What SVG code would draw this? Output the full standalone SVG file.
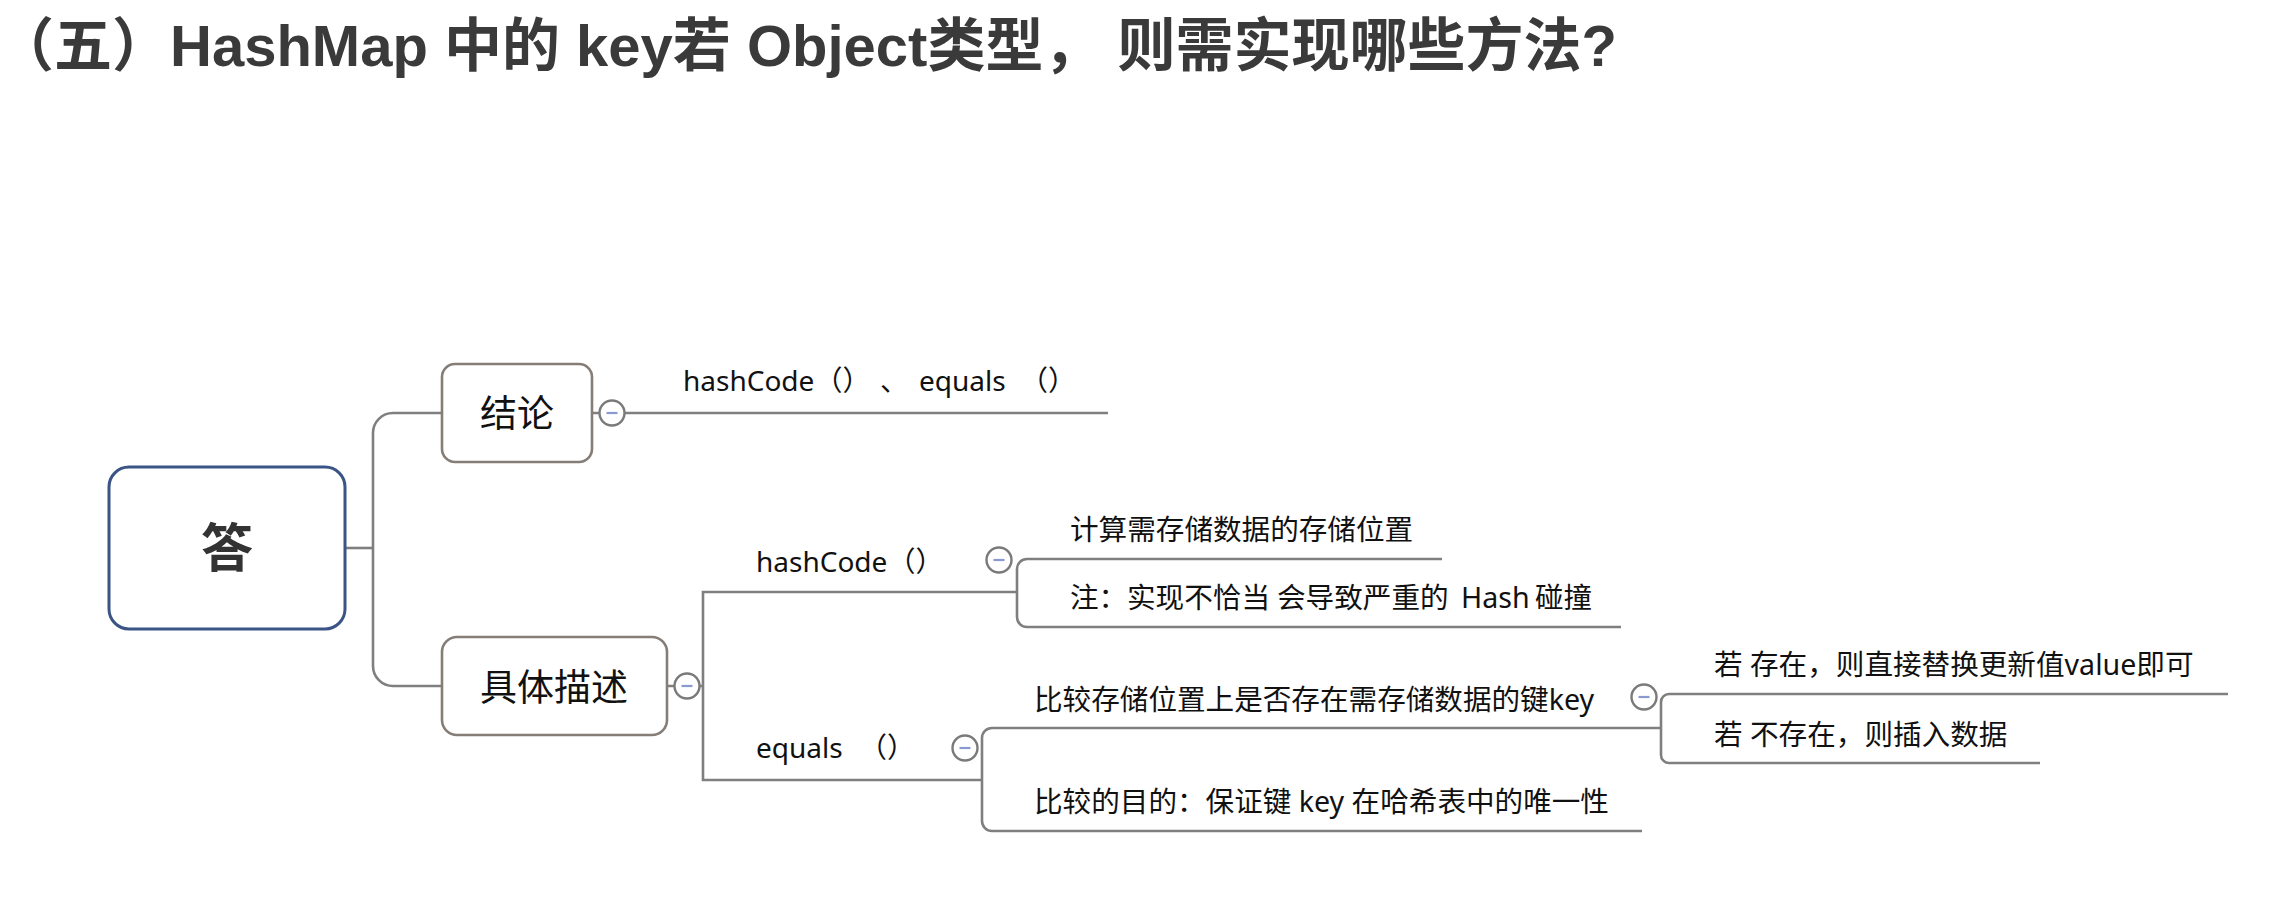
<svg xmlns="http://www.w3.org/2000/svg" width="2286" height="906" viewBox="0 0 2286 906">
<style>
.title{font-family:"Liberation Sans","Noto Sans CJK SC",sans-serif;font-weight:bold;font-size:58px;fill:#3a3a3a}
.t{font-family:"Noto Sans","Noto Sans CJK SC",sans-serif;font-size:28.6px;fill:#111}
.l{font-family:"Noto Sans","Noto Sans CJK SC",sans-serif;font-size:28px;fill:#111}
.node{font-family:"Noto Sans","Noto Sans CJK SC",sans-serif;font-size:37px;fill:#111;text-anchor:middle}
.root{font-family:"Noto Sans CJK SC",sans-serif;font-weight:bold;font-size:52px;fill:#333;text-anchor:middle}
.conn{fill:none;stroke:#7f7f7f;stroke-width:2.6}
.box{fill:#fff;stroke:#857d76;stroke-width:2.6}
.tog circle{fill:#fff;stroke:#7a7a7a;stroke-width:2.4}
.tog line{stroke:#8a9ad0;stroke-width:2.2}
</style>
<rect width="2286" height="906" fill="#fff"/>
<text class="title" x="-4" y="66">（五）HashMap 中的 key若 Object类型， 则需实现哪些方法?</text>

<g id="connectors">
<path class="conn" d="M345 548 H373"/>
<path class="conn" d="M442 413 H393 A20 20 0 0 0 373 433 V666 A20 20 0 0 0 393 686 H442"/>
<path class="conn" d="M592 413 H1108"/>
<path class="conn" d="M667 686 H703"/>
<path class="conn" d="M1017 592 H703 V780 H982"/>
<path class="conn" d="M1442 559 H1027 A10 10 0 0 0 1017 569 V617 A10 10 0 0 0 1027 627 H1621"/>
<path class="conn" d="M1661 728 H992 A10 10 0 0 0 982 738 V821 A10 10 0 0 0 992 831 H1642"/>
<path class="conn" d="M2228 694 H1669 A8 8 0 0 0 1661 702 V755 A8 8 0 0 0 1669 763 H2040"/>
</g>

<g id="root">
<rect x="109" y="467" width="236" height="162" rx="20" fill="#fff" stroke="#3a5585" stroke-width="3"/>
<text class="root" x="227" y="567">答</text>
</g>

<g id="conclusion">
<rect class="box" x="442" y="364" width="150" height="98" rx="13"/>
<text class="node" x="517" y="427">结论</text>
</g>
<g id="conclusion-toggle" class="tog">
<circle cx="612" cy="413" r="12.5"/><line x1="606.5" y1="413" x2="617.5" y2="413"/>
</g>
<g id="conclusion-text">
<text class="l" y="391"><tspan x="683">hashCode（）</tspan><tspan x="880">、</tspan><tspan x="919">equals</tspan><tspan x="1020">（）</tspan></text>
</g>

<g id="detail">
<rect class="box" x="442" y="637" width="225" height="98" rx="15"/>
<text class="node" x="554" y="701">具体描述</text>
</g>
<g id="detail-toggle" class="tog">
<circle cx="687" cy="686" r="12.5"/><line x1="681.5" y1="686" x2="692.5" y2="686"/>
</g>

<g id="hashcode">
<text class="l" x="756" y="572">hashCode（）</text>
</g>
<g id="hashcode-toggle" class="tog">
<circle cx="999" cy="560" r="12.5"/><line x1="993.5" y1="560" x2="1004.5" y2="560"/>
</g>
<g id="hashcode-1"><text class="t" x="1070" y="540">计算需存储数据的存储位置</text></g>
<g id="hashcode-2"><text class="t" y="608"><tspan x="1070">注：</tspan><tspan x="1127">实现不恰当</tspan><tspan x="1277">会导致严重的</tspan><tspan x="1461">Hash</tspan><tspan x="1535">碰撞</tspan></text></g>

<g id="equals">
<text class="l" y="758"><tspan x="756">equals</tspan><tspan x="859">（）</tspan></text>
</g>
<g id="equals-toggle" class="tog">
<circle cx="965" cy="748" r="12.5"/><line x1="959.5" y1="748" x2="970.5" y2="748"/>
</g>
<g id="equals-1"><text class="t" x="1034" y="710">比较存储位置上是否存在需存储数据的键key</text></g>
<g id="equals-1-toggle" class="tog">
<circle cx="1644" cy="697" r="12.5"/><line x1="1638.5" y1="697" x2="1649.5" y2="697"/>
</g>
<g id="equals-2"><text class="t" x="1034" y="812">比较的目的：保证键 key 在哈希表中的唯一性</text></g>
<g id="exists"><text class="t" x="1714" y="675">若 存在，则直接替换更新值value即可</text></g>
<g id="not-exists"><text class="t" x="1714" y="745">若 不存在，则插入数据</text></g>
</svg>
